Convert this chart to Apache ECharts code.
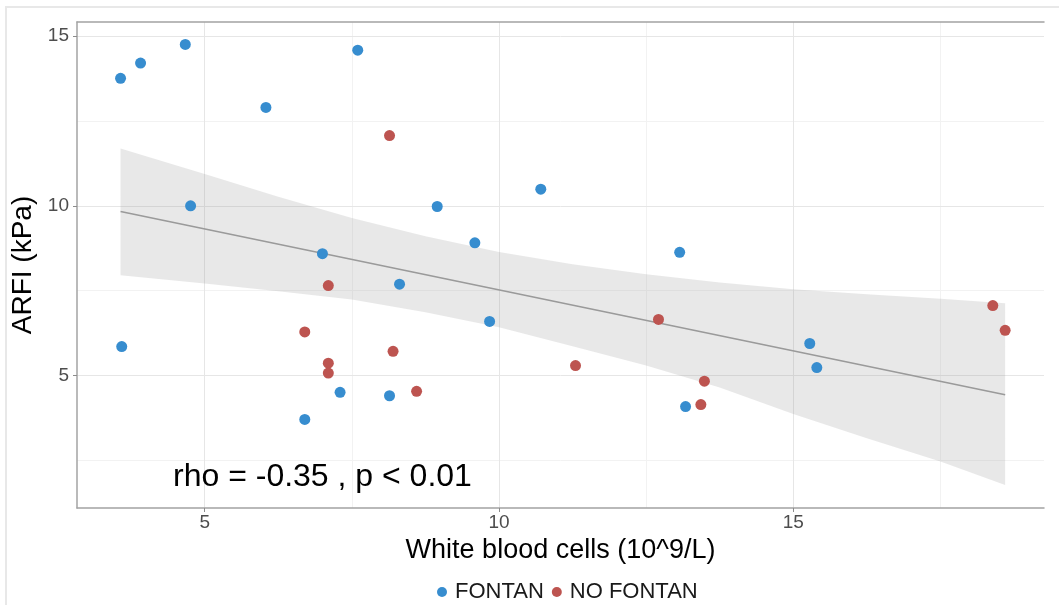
<!DOCTYPE html>
<html>
<head>
<meta charset="utf-8">
<script src="https://cdn.jsdelivr.net/npm/echarts@6/dist/echarts.min.js"></script>
<style>
  html, body { margin: 0; padding: 0; background: #fff; }
  #main { width: 1059px; height: 605px; }
</style>
</head>
<body>
<div id="main"></div>
<script>
// values
const fontanX = [3.57, 3.91, 4.67, 6.04, 7.60, 4.76, 7.00, 8.95, 9.59, 10.71, 13.07, 8.31, 3.59, 6.70, 7.30, 8.14, 9.84, 13.17, 15.28, 15.40];
const fontanY = [13.76, 14.21, 14.76, 12.90, 14.59, 10.00, 8.59, 9.98, 8.91, 10.49, 8.63, 7.69, 5.85, 3.70, 4.50, 4.40, 6.59, 4.08, 5.94, 5.23];
const noFontanX = [8.14, 7.10, 6.70, 7.10, 7.10, 8.20, 8.60, 11.30, 12.71, 13.49, 13.43, 18.39, 18.60];
const noFontanY = [12.07, 7.65, 6.28, 5.36, 5.07, 5.71, 4.53, 5.29, 6.65, 4.83, 4.14, 7.06, 6.33];

// fitted line + confidence band (edges read at a handful of x positions)
const fitX = [3.57, 18.60];
const fitY = [9.83, 4.43];
const bandX = [3.57, 5, 6.25, 7.5, 8.75, 10, 11.25, 12.5, 13.75, 15, 16.25, 17.5, 18.60];
const bandUpper = [11.69, 10.94, 10.27, 9.64, 9.10, 8.64, 8.28, 7.98, 7.74, 7.54, 7.39, 7.26, 7.13];
const bandLower = [7.95, 7.71, 7.48, 7.24, 6.86, 6.42, 5.86, 5.29, 4.64, 3.86, 3.15, 2.46, 1.77];

const xTicks = [5, 10, 15];
const yTicks = [5, 10, 15];
const xMinor = [7.5, 12.5, 17.5];
const yMinor = [2.5, 7.5, 12.5];

const FONT = '"Liberation Sans", Arial, sans-serif';
const axisGrey = '#a3a3a3';

var myChart = echarts.init(document.getElementById('main'));

function zip(xs, ys) {
  return xs.map((x, i) => [x, ys[i]]);
}

// grid lines drawn as mark lines so they sit on the nice values
var minorStyle = { color: '#f2f2f2', width: 1, type: 'solid' };
var majorStyle = { color: '#e6e6e6', width: 1, type: 'solid' };
var gridLines = []
  .concat(xMinor.map(v => ({ xAxis: v, lineStyle: minorStyle })))
  .concat(yMinor.map(v => ({ yAxis: v, lineStyle: minorStyle })))
  .concat(xTicks.map(v => ({ xAxis: v, lineStyle: majorStyle })))
  .concat(yTicks.map(v => ({ yAxis: v, lineStyle: majorStyle })));

myChart.setOption({
  animation: false,
  textStyle: { fontFamily: FONT },
  grid: { left: 77, right: 15, top: 22, bottom: 97 },
  graphic: [
    {
      type: 'rect',
      shape: { x: 6, y: 7, width: 1100, height: 700 },
      style: { fill: 'none', stroke: '#e8e8e8', lineWidth: 2 },
      silent: true
    },
    {
      type: 'text',
      left: 173,
      top: 461,
      z: 10,
      style: { text: 'rho = -0.35 , p < 0.01', font: '32px ' + FONT, fill: '#000' }
    }
  ],
  legend: {
    top: 576,
    left: 432,
    icon: 'circle',
    itemWidth: 10,
    itemHeight: 10,
    itemGap: 8,
    textStyle: { fontSize: 22, color: '#1a1a1a', fontFamily: FONT, padding: [0, 0, 0, 3] },
    data: ['FONTAN', 'NO FONTAN']
  },
  xAxis: [{
    type: 'value',
    min: 2.83,
    max: 19.26,
    name: 'White blood cells (10^9/L)',
    nameLocation: 'middle',
    nameGap: 27,
    nameTextStyle: { fontSize: 27, color: '#000' },
    axisLine: { show: true, onZero: false, lineStyle: { color: axisGrey, width: 1.5 } },
    axisTick: { show: true, length: 4, customValues: xTicks, lineStyle: { color: '#8c8c8c' } },
    axisLabel: { customValues: xTicks, fontSize: 19, color: '#4d4d4d', margin: 5 },
    splitLine: { show: false }
  }, {
    type: 'value',
    position: 'top',
    min: 2.83,
    max: 19.26,
    axisLine: { show: true, onZero: false, lineStyle: { color: axisGrey, width: 1.5 } },
    axisTick: { show: false },
    axisLabel: { show: false },
    splitLine: { show: false }
  }],
  yAxis: [{
    type: 'value',
    min: 1.09,
    max: 15.42,
    name: 'ARFI (kPa)',
    nameLocation: 'middle',
    nameGap: 29,
    nameTextStyle: { fontSize: 28, color: '#000' },
    axisLine: { show: true, onZero: false, lineStyle: { color: axisGrey, width: 1.5 } },
    axisTick: { show: true, length: 4, customValues: yTicks, lineStyle: { color: '#8c8c8c' } },
    axisLabel: { customValues: yTicks, fontSize: 19, color: '#4d4d4d', margin: 8 },
    splitLine: { show: false }
  }],
  series: [
    {
      type: 'scatter',
      data: [],
      silent: true,
      z: 0,
      markLine: {
        z: 0,
        silent: true,
        symbol: 'none',
        label: { show: false },
        data: gridLines
      }
    },
    {
      type: 'custom',
      silent: true,
      z: 1,
      data: [[bandX[0], bandUpper[0]]],
      renderItem: function (params, api) {
        var pts = bandX.map((x, i) => api.coord([x, bandUpper[i]]));
        for (var i = bandX.length - 1; i >= 0; i--) {
          pts.push(api.coord([bandX[i], bandLower[i]]));
        }
        return {
          type: 'polygon',
          shape: { points: pts },
          style: { fill: 'rgba(150,150,150,0.22)' }
        };
      }
    },
    {
      type: 'line',
      data: zip(fitX, fitY),
      symbol: 'none',
      silent: true,
      z: 2,
      lineStyle: { color: '#9a9a9a', width: 1.6 }
    },
    {
      name: 'FONTAN',
      type: 'scatter',
      symbolSize: 11,
      z: 3,
      itemStyle: { color: '#378dcf', opacity: 1 },
      data: zip(fontanX, fontanY)
    },
    {
      name: 'NO FONTAN',
      type: 'scatter',
      symbolSize: 11,
      z: 3,
      itemStyle: { color: '#bd5450', opacity: 1 },
      data: zip(noFontanX, noFontanY)
    }
  ]
});
</script>
</body>
</html>
